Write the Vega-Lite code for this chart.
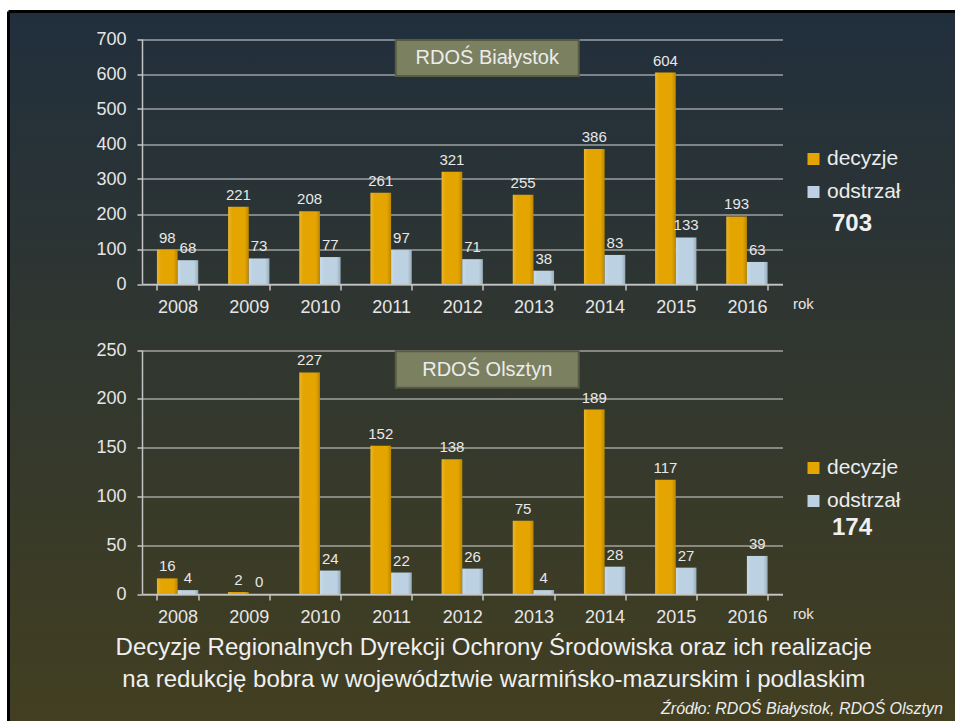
{
  "$schema": "https://vega.github.io/schema/vega-lite/v6.json",
  "width": 946.5,
  "height": 709.5,
  "autosize": {"type": "none"},
  "padding": {"left": 8.5, "top": 11.5, "right": 0, "bottom": 0},
  "background": "#ffffff",
  "datasets": {
    "bialystok": [
      {"rok": 2008, "seria": "decyzje", "wartosc": 98},
      {"rok": 2008, "seria": "odstrzał", "wartosc": 68},
      {"rok": 2009, "seria": "decyzje", "wartosc": 221},
      {"rok": 2009, "seria": "odstrzał", "wartosc": 73},
      {"rok": 2010, "seria": "decyzje", "wartosc": 208},
      {"rok": 2010, "seria": "odstrzał", "wartosc": 77},
      {"rok": 2011, "seria": "decyzje", "wartosc": 261},
      {"rok": 2011, "seria": "odstrzał", "wartosc": 97},
      {"rok": 2012, "seria": "decyzje", "wartosc": 321},
      {"rok": 2012, "seria": "odstrzał", "wartosc": 71},
      {"rok": 2013, "seria": "decyzje", "wartosc": 255},
      {"rok": 2013, "seria": "odstrzał", "wartosc": 38},
      {"rok": 2014, "seria": "decyzje", "wartosc": 386},
      {"rok": 2014, "seria": "odstrzał", "wartosc": 83},
      {"rok": 2015, "seria": "decyzje", "wartosc": 604},
      {"rok": 2015, "seria": "odstrzał", "wartosc": 133},
      {"rok": 2016, "seria": "decyzje", "wartosc": 193},
      {"rok": 2016, "seria": "odstrzał", "wartosc": 63}
    ],
    "olsztyn": [
      {"rok": 2008, "seria": "decyzje", "wartosc": 16},
      {"rok": 2008, "seria": "odstrzał", "wartosc": 4},
      {"rok": 2009, "seria": "decyzje", "wartosc": 2},
      {"rok": 2009, "seria": "odstrzał", "wartosc": 0},
      {"rok": 2010, "seria": "decyzje", "wartosc": 227},
      {"rok": 2010, "seria": "odstrzał", "wartosc": 24},
      {"rok": 2011, "seria": "decyzje", "wartosc": 152},
      {"rok": 2011, "seria": "odstrzał", "wartosc": 22},
      {"rok": 2012, "seria": "decyzje", "wartosc": 138},
      {"rok": 2012, "seria": "odstrzał", "wartosc": 26},
      {"rok": 2013, "seria": "decyzje", "wartosc": 75},
      {"rok": 2013, "seria": "odstrzał", "wartosc": 4},
      {"rok": 2014, "seria": "decyzje", "wartosc": 189},
      {"rok": 2014, "seria": "odstrzał", "wartosc": 28},
      {"rok": 2015, "seria": "decyzje", "wartosc": 117},
      {"rok": 2015, "seria": "odstrzał", "wartosc": 27},
      {"rok": 2016, "seria": "odstrzał", "wartosc": 39}
    ]
  },
  "title": {
    "text": ["Decyzje Regionalnych Dyrekcji Ochrony Środowiska oraz ich realizacje", "na redukcję bobra w województwie warmińsko-mazurskim i podlaskim"],
    "orient": "bottom",
    "frame": "group",
    "anchor": "middle",
    "baseline": "top",
    "offset": -85,
    "dx": 12,
    "fontSize": 24,
    "font": "Liberation Sans",
    "fontWeight": "normal",
    "color": "#f0f0f0",
    "lineHeight": 32
  },
  "layer": [
    {
      "data": {"name": "bialystok"},
      "layer": [
        {
          "mark": {"type": "bar"},
          "encoding": {
            "x": {
              "field": "rok", "type": "ordinal",
              "scale": {"range": [133.5, 774], "paddingInner": 0.42, "paddingOuter": 0.21},
              "axis": {
                "title": "rok", "orient": "bottom", "offset": -437, "tickBand": "extent",
                "labelAngle": 0, "labelFontSize": 18, "labelColor": "#e6e6e6", "labelPadding": 8,
                "tickSize": 6, "tickColor": "#c4c4c4", "tickWidth": 1.5, "domainColor": "#c4c4c4", "domainWidth": 1.5,
                "grid": false, "titleX": 784, "titleY": 19, "titleAlign": "left", "titleBaseline": "middle",
                "titleFontSize": 15, "titleFontWeight": "normal", "titleColor": "#e6e6e6", "titleAngle": 0
              }
            },
            "xOffset": {"field": "seria", "type": "nominal", "scale": {"domain": ["decyzje", "odstrzał"], "paddingInner": 0, "paddingOuter": 0}},
            "y": {
              "field": "wartosc", "type": "quantitative",
              "scale": {"domain": [0, 700], "range": [272.5, 27.5], "nice": false, "zero": true},
              "axis": {
                "title": null, "orient": "left", "offset": -133.5,
                "values": [0, 100, 200, 300, 400, 500, 600, 700],
                "grid": true, "gridColor": "#d6d6d6", "gridWidth": 1.2,
                "domainColor": "#c4c4c4", "domainWidth": 1.5, "tickColor": "#c4c4c4", "tickWidth": 1.5, "tickSize": 5,
                "labelPadding": 11, "labelFontSize": 18, "labelColor": "#e6e6e6"
              }
            },
            "color": {
              "field": "seria", "type": "nominal",
              "scale": {"domain": ["decyzje", "odstrzał"], "range": ["#e4a500", "#bcd2e2"]},
              "legend": {
                "orient": "none", "direction": "vertical", "legendX": 794.5, "legendY": 137,
                "title": "703", "titleOrient": "bottom", "titleAnchor": "middle", "titlePadding": 9,
                "titleFontSize": 24, "titleFontWeight": "bold", "titleColor": "#f0f0f0",
                "labelFontSize": 21, "labelColor": "#ececec", "labelOffset": 3,
                "symbolType": "square", "symbolSize": 144, "symbolStrokeWidth": 0, "symbolOpacity": 1,
                "rowPadding": 11, "padding": 0
              }
            }
          }
        },
        {
          "mark": {"type": "bar", "fill": {"gradient": "linear", "x1": 0, "y1": 0, "x2": 1, "y2": 0, "stops": [{"offset": 0, "color": "rgba(255,255,255,0.18)"}, {"offset": 0.2, "color": "rgba(255,255,255,0)"}, {"offset": 0.8, "color": "rgba(0,0,0,0)"}, {"offset": 1, "color": "rgba(0,0,0,0.18)"}]}},
          "encoding": {
            "x": {"field": "rok", "type": "ordinal"},
            "xOffset": {"field": "seria", "type": "nominal"},
            "y": {"field": "wartosc", "type": "quantitative"}
          }
        },
        {
          "mark": {"type": "text", "baseline": "alphabetic", "dy": -7, "fontSize": 15, "color": "#e8e8e8"},
          "encoding": {
            "x": {"field": "rok", "type": "ordinal"},
            "xOffset": {"field": "seria", "type": "nominal"},
            "y": {"field": "wartosc", "type": "quantitative"},
            "text": {"field": "wartosc", "type": "quantitative"}
          }
        },
        {
          "data": {"values": [{"etykieta": "RDOŚ Białystok"}]},
          "layer": [
            {
              "mark": {"type": "point", "shape": "M-0.727,-0.197L1.273,-0.197L1.273,0.197L-0.727,0.197Z", "size": 33489, "filled": true, "fill": "#7b8061", "stroke": "#585c43", "strokeWidth": 2, "opacity": 1},
              "encoding": {
                "x": {"datum": 2012, "type": "ordinal"},
                "y": {"datum": 646, "type": "quantitative"}
              }
            },
            {
              "mark": {"type": "text", "baseline": "middle", "align": "center", "dx": 25, "fontSize": 20, "color": "#ececec"},
              "encoding": {
                "x": {"datum": 2012, "type": "ordinal"},
                "y": {"datum": 646, "type": "quantitative"},
                "text": {"field": "etykieta", "type": "nominal"}
              }
            }
          ]
        }
      ]
    },
    {
      "data": {"name": "olsztyn"},
      "layer": [
        {
          "mark": {"type": "bar"},
          "encoding": {
            "x": {
              "field": "rok", "type": "ordinal",
              "scale": {"range": [133.5, 774], "paddingInner": 0.42, "paddingOuter": 0.21},
              "axis": {
                "title": "rok", "orient": "bottom", "offset": -127, "tickBand": "extent",
                "labelAngle": 0, "labelFontSize": 18, "labelColor": "#e6e6e6", "labelPadding": 8,
                "tickSize": 6, "tickColor": "#c4c4c4", "tickWidth": 1.5, "domainColor": "#c4c4c4", "domainWidth": 1.5,
                "grid": false, "titleX": 784, "titleY": 19, "titleAlign": "left", "titleBaseline": "middle",
                "titleFontSize": 15, "titleFontWeight": "normal", "titleColor": "#e6e6e6", "titleAngle": 0
              }
            },
            "xOffset": {"field": "seria", "type": "nominal", "scale": {"domain": ["decyzje", "odstrzał"], "paddingInner": 0, "paddingOuter": 0}},
            "y": {
              "field": "wartosc", "type": "quantitative",
              "scale": {"domain": [0, 250], "range": [582.5, 338.5], "nice": false, "zero": true},
              "axis": {
                "title": null, "orient": "left", "offset": -133.5,
                "values": [0, 50, 100, 150, 200, 250],
                "grid": true, "gridColor": "#d6d6d6", "gridWidth": 1.2,
                "domainColor": "#c4c4c4", "domainWidth": 1.5, "tickColor": "#c4c4c4", "tickWidth": 1.5, "tickSize": 5,
                "labelPadding": 11, "labelFontSize": 18, "labelColor": "#e6e6e6"
              }
            },
            "color": {
              "field": "seria", "type": "nominal",
              "scale": {"domain": ["decyzje", "odstrzał"], "range": ["#e4a500", "#bcd2e2"]},
              "legend": {
                "orient": "none", "direction": "vertical", "legendX": 794.5, "legendY": 446,
                "title": "174", "titleOrient": "bottom", "titleAnchor": "middle", "titlePadding": 4,
                "titleFontSize": 24, "titleFontWeight": "bold", "titleColor": "#f0f0f0",
                "labelFontSize": 21, "labelColor": "#ececec", "labelOffset": 3,
                "symbolType": "square", "symbolSize": 144, "symbolStrokeWidth": 0, "symbolOpacity": 1,
                "rowPadding": 11, "padding": 0
              }
            }
          }
        },
        {
          "mark": {"type": "bar", "fill": {"gradient": "linear", "x1": 0, "y1": 0, "x2": 1, "y2": 0, "stops": [{"offset": 0, "color": "rgba(255,255,255,0.18)"}, {"offset": 0.2, "color": "rgba(255,255,255,0)"}, {"offset": 0.8, "color": "rgba(0,0,0,0)"}, {"offset": 1, "color": "rgba(0,0,0,0.18)"}]}},
          "encoding": {
            "x": {"field": "rok", "type": "ordinal"},
            "xOffset": {"field": "seria", "type": "nominal"},
            "y": {"field": "wartosc", "type": "quantitative"}
          }
        },
        {
          "mark": {"type": "text", "baseline": "alphabetic", "dy": -7, "fontSize": 15, "color": "#e8e8e8"},
          "encoding": {
            "x": {"field": "rok", "type": "ordinal"},
            "xOffset": {"field": "seria", "type": "nominal"},
            "y": {"field": "wartosc", "type": "quantitative"},
            "text": {"field": "wartosc", "type": "quantitative"}
          }
        },
        {
          "data": {"values": [{"etykieta": "RDOŚ Olsztyn", "zrodlo": "Źródło: RDOŚ Białystok, RDOŚ Olsztyn"}]},
          "layer": [
            {
              "mark": {"type": "point", "shape": "M-0.727,-0.2L1.273,-0.2L1.273,0.2L-0.727,0.2Z", "size": 33489, "filled": true, "fill": "#7b8061", "stroke": "#585c43", "strokeWidth": 2, "opacity": 1},
              "encoding": {
                "x": {"datum": 2012, "type": "ordinal"},
                "y": {"datum": 230, "type": "quantitative"}
              }
            },
            {
              "mark": {"type": "text", "baseline": "middle", "align": "center", "dx": 25, "fontSize": 20, "color": "#ececec"},
              "encoding": {
                "x": {"datum": 2012, "type": "ordinal"},
                "y": {"datum": 230, "type": "quantitative"},
                "text": {"field": "etykieta", "type": "nominal"}
              }
            },
            {
              "mark": {"type": "text", "baseline": "middle", "align": "right", "dx": 196, "fontSize": 16, "fontStyle": "italic", "color": "#ececec"},
              "encoding": {
                "x": {"datum": 2016, "type": "ordinal"},
                "y": {"datum": -118, "type": "quantitative"},
                "text": {"field": "zrodlo", "type": "nominal"}
              }
            }
          ]
        }
      ]
    }
  ],
  "resolve": {
    "scale": {"x": "independent", "y": "independent", "color": "independent", "xOffset": "independent"},
    "axis": {"x": "independent", "y": "independent"},
    "legend": {"color": "independent"}
  },
  "config": {
    "font": "Liberation Sans",
    "view": {
      "fill": {"gradient": "linear", "x1": 0, "y1": 0, "x2": 0, "y2": 1, "stops": [{"offset": 0, "color": "#212f3d"}, {"offset": 1, "color": "#423f21"}]},
      "stroke": "#000000",
      "strokeWidth": 3,
      "strokeDash": [946.5, 1656, 709.5, 0]
    }
  }
}
